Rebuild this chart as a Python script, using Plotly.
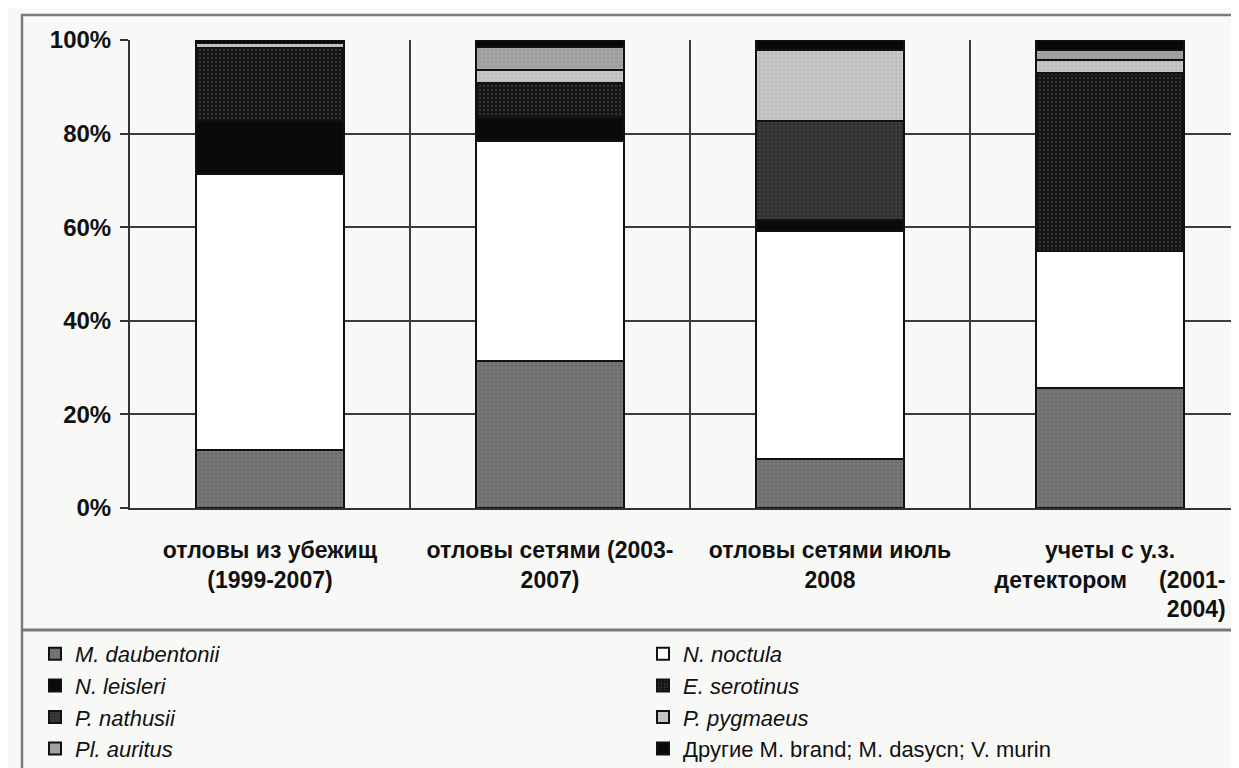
import plotly.graph_objects as go

# ---------------- data (percent of individuals) ----------------
categories = [
    "отловы из убежищ<br>(1999-2007)",
    "отловы сетями (2003-<br>2007)",
    "отловы сетями июль<br>2008",
    "учеты с у.з.<br>детектором" + "\u00a0" * 5 + "(2001-<br>" + "\u00a0" * 27 + "2004)",
]
series_names = [
    "<i>M. daubentonii</i>",
    "<i>N. noctula</i>",
    "<i>N. leisleri</i>",
    "<i>E. serotinus</i>",
    "<i>P. nathusii</i>",
    "<i>P. pygmaeus</i>",
    "<i>Pl. auritus</i>",
    "Другие M. brand; M. dasycn; V. murin",
]
m_daubentonii = [12.4, 31.4, 10.5, 25.6]
n_noctula = [59.0, 47.0, 48.7, 29.3]
n_leisleri = [11.3, 4.9, 2.3, 0.0]
e_serotinus = [15.6, 7.5, 0.0, 38.0]
p_nathusii = [0.0, 0.0, 21.2, 0.0]
p_pygmaeus = [1.0, 2.8, 15.2, 2.8]
pl_auritus = [0.0, 4.8, 0.0, 2.2]
others = [0.7, 1.6, 2.1, 2.1]
y_ticks = [0, 20, 40, 60, 80, 100]

series_values = [m_daubentonii, n_noctula, n_leisleri, e_serotinus,
                 p_nathusii, p_pygmaeus, pl_auritus, others]
# legend column of each series (legend is laid out row by row in two columns)
legend_ids = ["legend", "legend2", "legend", "legend2",
              "legend", "legend2", "legend", "legend2"]

# ---------------- styles ----------------
styles = [
    dict(bg="#767676", fg="#5a5a5a", shape="."),
    dict(bg="#ffffff", fg="#ffffff", shape=""),
    dict(bg="#0a0a0a", fg="#0a0a0a", shape=""),
    dict(bg="#141414", fg="#5c5c5c", shape="."),
    dict(bg="#2e2e2e", fg="#6a6a6a", shape="+"),
    dict(bg="#c6c6c6", fg="#a8a8a8", shape="."),
    dict(bg="#a4a4a4", fg="#8a8a8a", shape="."),
    dict(bg="#080808", fg="#080808", shape=""),
]

x_pos = list(range(len(categories)))
fig = go.Figure()
for name, vals, st, lg in zip(series_names, series_values, styles, legend_ids):
    fig.add_trace(go.Bar(
        x=x_pos, y=vals, name=name, width=0.53, legend=lg,
        marker=dict(
            color=st["bg"],
            line=dict(color="#111111", width=2),
            pattern=dict(shape=st["shape"], fgcolor=st["fg"], bgcolor=st["bg"],
                         size=4, solidity=0.25, fillmode="overlay"),
        ),
    ))

FONT = "Liberation Sans, Arial, sans-serif"
# the page adds an 8px body margin, so the figure is 8px smaller each way
W, H = 1231, 760
L, T, B = 122, 32, 260
plot_h = H - T - B
plot_w = W - L


def px_x(p):
    return (p - L) / plot_w


def px_y(p):
    return (H - B - p) / plot_h


legend_common = dict(
    orientation="h",
    entrywidth=560,
    traceorder="normal",
    xref="container", yref="container",
    xanchor="left", yanchor="top",
    y=1 - 625 / H,
    font=dict(family=FONT, size=22, color="#111111"),
    bgcolor="rgba(0,0,0,0)",
    borderwidth=0,
)

fig.update_layout(
    width=W, height=H, autosize=False,
    barmode="stack",
    margin=dict(l=L, r=0, t=T, b=B, pad=0),
    paper_bgcolor="#f8f8f6",
    plot_bgcolor="#f8f8f6",
    font=dict(family=FONT, color="#111111"),
    showlegend=True,
    legend=dict(x=27 / W, **legend_common),
    legend2=dict(x=635 / W, **legend_common),
    xaxis=dict(
        range=[-0.5, -0.5 + plot_w / 280],
        tickmode="array", tickvals=x_pos, ticktext=categories,
        tickfont=dict(family=FONT, size=23, color="#111111", weight="bold"),
        ticks="", ticklabelstandoff=20, tickangle=0,
        showgrid=False, zeroline=False,
        showline=True, linecolor="#333333", linewidth=2,
        minor=dict(tickmode="array", tickvals=[0.5, 1.5, 2.5],
                   showgrid=True, gridcolor="#3c3c3c", gridwidth=2, ticks=""),
    ),
    yaxis=dict(
        range=[0, 100],
        tickmode="array", tickvals=y_ticks,
        ticktext=[f"{v}%" for v in y_ticks],
        tickfont=dict(family=FONT, size=24, color="#111111", weight="bold"),
        ticks="outside", ticklen=8, tickcolor="#333333", tickwidth=2,
        ticklabelstandoff=4,
        showgrid=True, gridcolor="#3c3c3c", gridwidth=1.5,
        zeroline=False,
        showline=True, linecolor="#333333", linewidth=2,
    ),
    shapes=[
        # outer chart frame
        dict(type="rect", xref="paper", yref="paper",
             x0=px_x(14), x1=px_x(1260), y0=px_y(7), y1=px_y(790),
             line=dict(color="#7a7a7a", width=2.5), layer="below"),
        # legend box top border
        dict(type="line", xref="paper", yref="paper",
             x0=px_x(14), x1=px_x(1260), y0=px_y(622), y1=px_y(622),
             line=dict(color="#7a7a7a", width=3)),
    ],
)

fig.write_html("out.html")
